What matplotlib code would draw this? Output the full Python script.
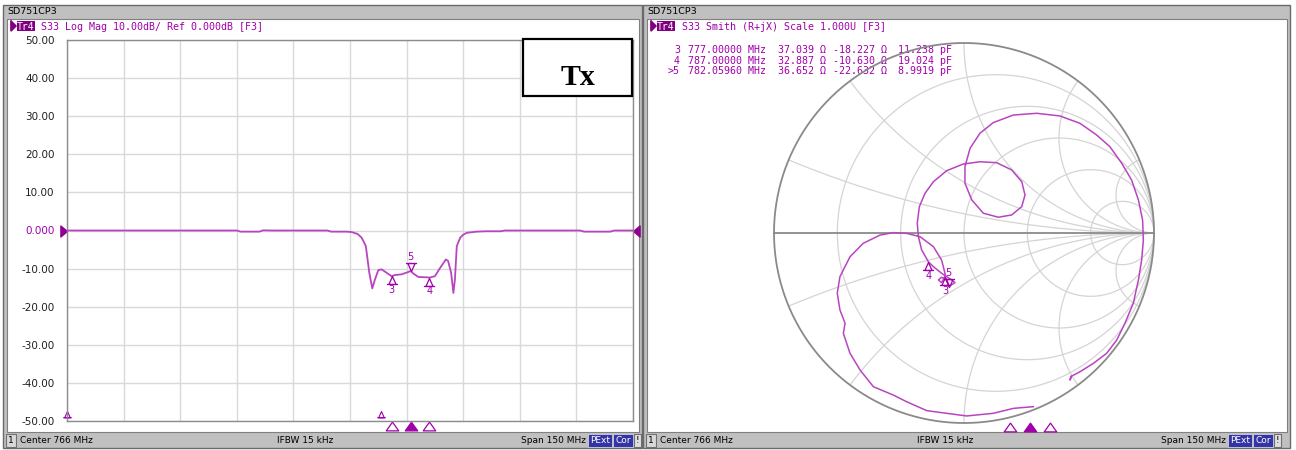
import numpy as np
import matplotlib.pyplot as plt
from matplotlib.patches import Rectangle
from matplotlib.path import Path
import matplotlib.transforms as mtransforms

W, H = 1296, 450

# S33 log magnitude (MHz, dB)
freq_mhz = [691, 736, 737, 742, 743, 745, 760, 761, 765, 766.4,
            768, 769.1, 770.2, 771.1, 771.9, 772.6, 773.5, 774.4, 775.7, 777.0,
            777.9, 779.7, 781.4, 782.06, 782.8, 784.1, 786.5, 787.0, 788.5, 789.9,
            791.4, 792.0, 792.8, 793.4, 793.8, 794.3, 795.2, 796.0, 797.0, 799.6,
            802, 806, 807, 827, 828, 835, 836, 841]
s33_db = [0, 0, -0.3, -0.3, 0.05, 0, 0, -0.3, -0.3, -0.4,
          -0.9, -1.9, -4.1, -11.0, -15.2, -12.9, -10.4, -10.2, -11.1, -11.985,
          -11.7, -11.5, -10.9, -10.653, -11.3, -12.2, -12.3, -12.365, -12.0, -9.8,
          -7.6, -8.0, -11.1, -16.4, -12.9, -4.1, -1.9, -1.1, -0.6, -0.3,
          -0.2, -0.2, 0, 0, -0.3, -0.3, 0, 0]

# S33 reflection coefficient (Smith screen), start -> stop
gamma_re = [0.365, 0.260, 0.154, 0.014, -0.091, -0.196, -0.302, -0.372, -0.477, -0.547,
            -0.600, -0.635, -0.626, -0.653, -0.667, -0.653, -0.600, -0.530, -0.442, -0.372,
            -0.302, -0.232, -0.161, -0.118, -0.100, -0.100, -0.118, -0.135, -0.118, -0.091,
            -0.080, -0.047, -0.065, -0.091, -0.118, -0.161, -0.187, -0.223, -0.240, -0.246,
            -0.235, -0.205, -0.161, -0.091, -0.004, 0.084, 0.172, 0.251, 0.304, 0.321,
            0.304, 0.251, 0.181, 0.102, 0.041, 0.005, 0.005, 0.032, 0.084, 0.154,
            0.260, 0.383, 0.505, 0.611, 0.698, 0.768, 0.830, 0.882, 0.918, 0.940,
            0.944, 0.935, 0.918, 0.891, 0.847, 0.804, 0.751, 0.681, 0.611, 0.567,
            0.558, 0.562]
gamma_im = [-0.914, -0.923, -0.949, -0.963, -0.949, -0.935, -0.888, -0.853, -0.809, -0.721,
            -0.633, -0.528, -0.475, -0.405, -0.317, -0.230, -0.125, -0.054, -0.011, 0.002,
            -0.002, -0.019, -0.072, -0.142, -0.212, -0.230, -0.261, -0.247, -0.233, -0.247,
            -0.282, -0.261, -0.247, -0.230, -0.212, -0.177, -0.152, -0.089, -0.019, 0.051,
            0.139, 0.209, 0.270, 0.328, 0.363, 0.375, 0.370, 0.332, 0.270, 0.200,
            0.139, 0.095, 0.083, 0.104, 0.174, 0.262, 0.349, 0.446, 0.525, 0.581,
            0.621, 0.630, 0.616, 0.577, 0.516, 0.454, 0.367, 0.279, 0.174, 0.068,
            -0.037, -0.142, -0.247, -0.370, -0.475, -0.563, -0.633, -0.686, -0.730, -0.753,
            -0.774, -0.755]

# marker table
mk_label = ['3', '4', '>5']
mk_freq = [777.0, 787.0, 782.0596]
mk_db = [-11.985, -12.365, -10.653]
mk_r = [37.039, 32.887, 36.652]
mk_x = [-18.227, -10.630, -22.632]
mk_c = [11.238, 19.024, 8.9919]
mk_active = 2
off_freq = [691.0, 774.2]   # markers parked on the bottom edge

z0 = 50.0
f_start, f_stop = 691.0, 841.0

GRAY = '#c0c0c0'
PURPLE = '#a000a8'
TRACE = '#b845c0'
MONO = 'DejaVu Sans Mono'
SANS = 'DejaVu Sans'


def rect(x, y, w, h):
    return [x / W, 1 - (y + h) / H, w / W, h / H]


def flag(up=True):
    s = 1 if up else -1
    v = [(0, 0), (-0.45, -s), (0.45, -s), (0, 0), (-0.7, -s), (0.7, -s)]
    c = [Path.MOVETO, Path.LINETO, Path.LINETO, Path.CLOSEPOLY, Path.MOVETO, Path.LINETO]
    return Path(v, c)


def arrow(right=True):
    s = 1 if right else -1
    return Path([(0, 0), (-1.2 * s, 1), (-1.2 * s, -1), (0, 0)],
                [Path.MOVETO, Path.LINETO, Path.LINETO, Path.CLOSEPOLY])


stim = Path([(0, 0.7), (-1, -0.7), (1, -0.7), (0, 0.7)],
            [Path.MOVETO, Path.LINETO, Path.LINETO, Path.CLOSEPOLY])

fig = plt.figure(figsize=(W / 100, H / 100), dpi=100)
fig.patch.set_facecolor('white')

bg = fig.add_axes([0, 0, 1, 1], zorder=0)
bg.set_xlim(0, W)
bg.set_ylim(H, 0)
bg.axis('off')


def panel(x0, x1, header, hx):
    bg.add_patch(Rectangle((x0, 5), x1 - x0, 443, fc=GRAY, ec='#6a6a6a', lw=1))
    bg.add_patch(Rectangle((x0 + 4, 19), x1 - x0 - 7, 413, fc='white', ec='#808080', lw=0.8))
    bg.text(x0 + 4, 12, 'SD751CP3', fontsize=6.8, family=SANS, va='center')
    # trace header
    bg.plot([x0 + 8, x0 + 8, x0 + 13, x0 + 8], [21, 31, 26, 21], color='#800080', lw=0.8)
    bg.fill([x0 + 8, x0 + 8, x0 + 13], [21, 31, 26], color='#800080')
    bg.add_patch(Rectangle((x0 + 14, 21), 18, 10, fc='#800080', ec='none'))
    bg.text(x0 + 23, 26.5, 'Tr4', fontsize=7, family=MONO, color='white', ha='center', va='center')
    bg.text(hx, 26.5, header, fontsize=7.2, family=MONO, color=PURPLE, va='center')
    # status bar
    bg.add_patch(Rectangle((x0 + 3, 434), 10, 13, fc='#d8d8d8', ec='#707070', lw=0.8))
    bg.text(x0 + 8, 440.5, '1', fontsize=6.5, family=SANS, ha='center', va='center')
    bg.text(x0 + 17, 440.5, 'Center 766 MHz', fontsize=6.5, family=SANS, va='center')
    bg.text(x0 + 274, 440.5, 'IFBW 15 kHz', fontsize=6.5, family=SANS, va='center')
    bg.text(x0 + 518, 440.5, 'Span 150 MHz', fontsize=6.5, family=SANS, va='center')
    bg.add_patch(Rectangle((x0 + 585, 434), 24, 13, fc='#3434a8', ec='#d0d0d0', lw=0.6))
    bg.text(x0 + 597, 440.5, 'PExt', fontsize=6.5, family=SANS, color='white', ha='center', va='center')
    bg.add_patch(Rectangle((x0 + 610, 434), 20, 13, fc='#3434a8', ec='#d0d0d0', lw=0.6))
    bg.text(x0 + 620, 440.5, 'Cor', fontsize=6.5, family=SANS, color='white', ha='center', va='center')
    bg.add_patch(Rectangle((x0 + 631, 434), 7, 13, fc='#e0e0e0', ec='#707070', lw=0.8))
    bg.text(x0 + 634.5, 440.5, '!', fontsize=6.5, family=SANS, ha='center', va='center')


panel(3, 642, 'S33 Log Mag 10.00dB/ Ref 0.000dB [F3]', 41)
panel(643, 1290, 'S33 Smith (R+jX) Scale 1.000U [F3]', 682)

# marker readouts
for i, lab in enumerate(mk_label):
    y = [48, 58.5, 69][i]
    bg.text(80, y, lab, fontsize=7.2, family=MONO, color=PURPLE, ha='right', va='center')
    bg.text(95, y, f'{mk_freq[i]:.5f} MHz', fontsize=7.2, family=MONO, color=PURPLE, va='center')
    bg.text(180, y, f'{mk_db[i]:.3f} dB', fontsize=7.2, family=MONO, color=PURPLE, va='center')
    y = [50, 60.5, 71][i]
    bg.text(680, y, lab, fontsize=7.2, family=MONO, color=PURPLE, ha='right', va='center')
    bg.text(688, y, f'{mk_freq[i]:.5f} MHz', fontsize=7.2, family=MONO, color=PURPLE, va='center')
    bg.text(778, y, f'{mk_r[i]:.3f} Ω', fontsize=7.2, family=MONO, color=PURPLE, va='center')
    bg.text(833, y, f'{mk_x[i]:.3f} Ω', fontsize=7.2, family=MONO, color=PURPLE, va='center')
    cs = f'{mk_c[i]:.4f}' if mk_c[i] < 10 else f'{mk_c[i]:.3f}'
    bg.text(898, y, f'{cs} pF', fontsize=7.2, family=MONO, color=PURPLE, va='center')

# ---------------- log mag
ax = fig.add_axes(rect(67, 40, 566, 381), zorder=1)
ax.set_facecolor('white')
ax.plot(freq_mhz, s33_db, color=TRACE, lw=1.3, zorder=3)
ax.set_xlim(f_start, f_stop)
ax.set_ylim(-50, 50)
ax.set_xticks(np.linspace(f_start, f_stop, 11))
ax.set_yticks(np.arange(-50, 51, 10))
ax.set_yticklabels(['0.000' if v == 0 else f'{v:.2f}' for v in np.arange(-50, 51, 10)])
ax.get_yticklabels()[5].set_color(PURPLE)
ax.tick_params(axis='y', length=0, pad=9, labelsize=7.5, labelcolor='#202020')
ax.tick_params(axis='x', length=0, labelbottom=False)
for lbl in ax.get_yticklabels():
    lbl.set_family(SANS)
ax.get_yticklabels()[5].set_color(PURPLE)
ax.grid(color='#d9d9d9', lw=1)
for s in ax.spines.values():
    s.set_color('#8c8c8c')
    s.set_linewidth(1)

for i in range(3):
    up = i != mk_active
    ax.plot([mk_freq[i]], [mk_db[i]], marker=flag(up), ms=11.5, mfc='none',
            mec=PURPLE, mew=0.9, ls='none', zorder=4)
    ax.annotate(mk_label[i][-1], (mk_freq[i], mk_db[i]), xytext=(0, -10 if up else 10),
                textcoords='offset points', ha='center', va='center', fontsize=7,
                family=SANS, color=PURPLE)

bt = mtransforms.blended_transform_factory(ax.transData, ax.transAxes)
for i in range(3):
    act = i == mk_active
    ax.plot([mk_freq[i]], [-0.014], marker=stim, ms=9, mfc=PURPLE if act else 'none',
            mec=PURPLE, mew=0.9, transform=bt, clip_on=False, ls='none')
ax.plot(off_freq, [0.017, 0.017], marker=flag(True), ms=9, mfc='none', mec=PURPLE,
        mew=0.8, transform=mtransforms.offset_copy(bt, fig, y=4, units='dots'),
        clip_on=False, ls='none')

rt = mtransforms.blended_transform_factory(ax.transAxes, ax.transData)
ax.plot([0], [0], marker=arrow(True), ms=9.5, color='#900090', transform=rt, clip_on=False)
ax.plot([1], [0], marker=arrow(False), ms=9.5, color='#900090', transform=rt, clip_on=False)

# ---------------- smith chart
R = 190
lim = 194 / R
sx = fig.add_axes(rect(964 - 194, 233 - 194, 388, 388), zorder=1)
sx.set_facecolor('none')
sx.set_xlim(-lim, lim)
sx.set_ylim(-lim, lim)
sx.set_aspect('equal')
sx.axis('off')

grid_vals = [0.2, 0.5, 1.0, 2.0, 5.0]
t = np.concatenate([-np.logspace(3, -3, 400), np.logspace(-3, 3, 400)])
for r in grid_vals:
    g = (r + 1j * t - 1) / (r + 1j * t + 1)
    sx.plot(g.real, g.imag, color='#d4d4d4', lw=0.9)
rr = np.concatenate([[0], np.logspace(-3, 3, 600)])
for xv in grid_vals:
    for sgn in (1, -1):
        g = (rr + 1j * sgn * xv - 1) / (rr + 1j * sgn * xv + 1)
        sx.plot(g.real, g.imag, color='#d4d4d4', lw=0.9)
th = np.linspace(0, 2 * np.pi, 500)
sx.plot(np.cos(th), np.sin(th), color='#8a8a8a', lw=1.3)
sx.plot([-1, 1], [0, 0], color='#8a8a8a', lw=1.3)

sx.plot(gamma_re, gamma_im, color=TRACE, lw=1.1, zorder=3)

zn = (np.array(mk_r) + 1j * np.array(mk_x)) / z0
gm = (zn - 1) / (zn + 1)
for i in range(3):
    up = i != mk_active
    sx.plot([gm[i].real], [gm[i].imag], marker=flag(up), ms=11.5, mfc='none',
            mec=PURPLE, mew=0.9, ls='none', zorder=4)
    sx.annotate(mk_label[i][-1], (gm[i].real, gm[i].imag), xytext=(0, -10 if up else 10),
                textcoords='offset points', ha='center', va='center', fontsize=7,
                family=SANS, color=PURPLE)

st = fig.add_axes(rect(666, 422, 600, 10), zorder=1)
st.set_xlim(f_start, f_stop)
st.set_ylim(0, 1)
st.axis('off')
for i in range(3):
    act = i == mk_active
    st.plot([mk_freq[i]], [0.5], marker=stim, ms=9, mfc=PURPLE if act else 'none',
            mec=PURPLE, mew=0.9, clip_on=False, ls='none')

# ---------------- Tx label box
ov = fig.add_axes([0, 0, 1, 1], zorder=5)
ov.set_xlim(0, W)
ov.set_ylim(H, 0)
ov.axis('off')
ov.add_patch(Rectangle((523, 39), 109, 57, fc='white', ec='black', lw=1.6))
ov.text(577.5, 85, 'Tx', fontsize=21.5, family='Liberation Serif', weight='bold',
        ha='center', va='baseline')

fig.savefig('out.png', dpi=100)
